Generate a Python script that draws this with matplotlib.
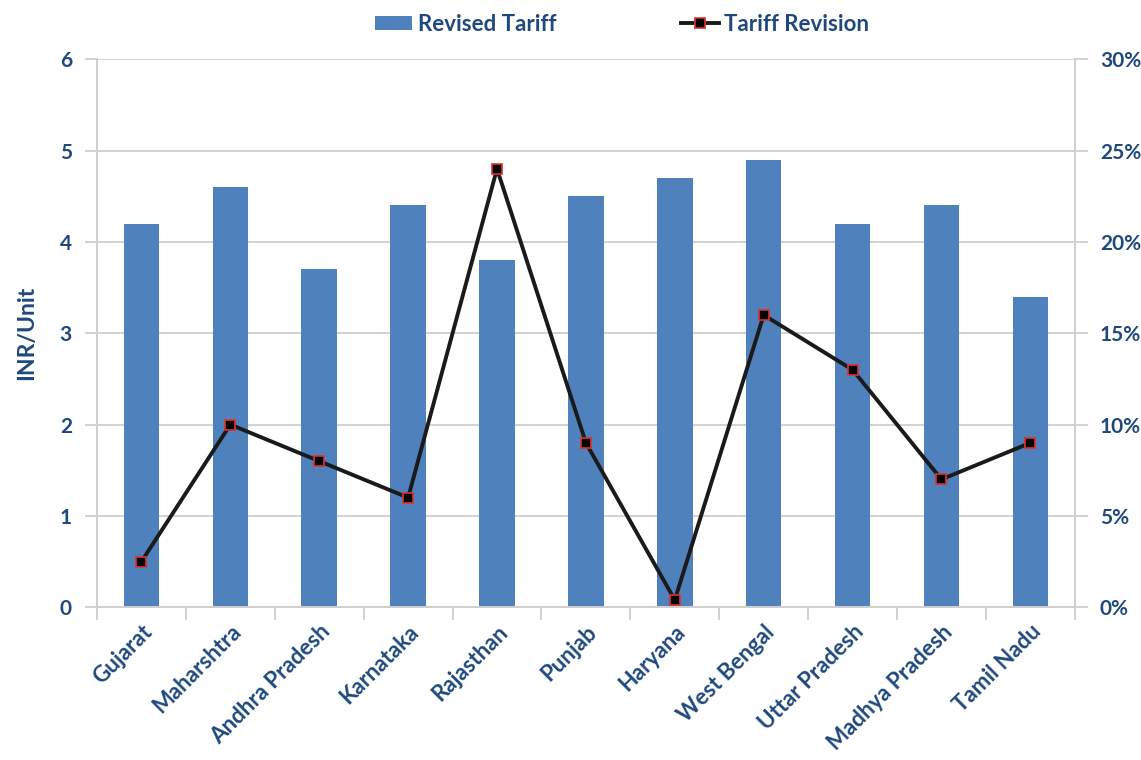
import matplotlib
matplotlib.use('Agg')
import matplotlib.pyplot as plt
import numpy as np
from matplotlib.ticker import FuncFormatter

plt.rcParams['font.family'] = ['Lato', 'DejaVu Sans']
plt.rcParams['font.weight'] = 'bold'

states = ['Gujarat', 'Maharshtra', 'Andhra Pradesh', 'Karnataka', 'Rajasthan', 'Punjab',
          'Haryana', 'West Bengal', 'Uttar Pradesh', 'Madhya Pradesh', 'Tamil Nadu']
revised_tariff = [4.2, 4.6, 3.7, 4.4, 3.8, 4.5, 4.7, 4.9, 4.2, 4.4, 3.4]
tariff_revision = [2.5, 10, 8, 6, 24, 9, 0.4, 16, 13, 7, 9]  # percent

txt = '#1f497d'
bar_c = '#4f81bd'
grid_c = '#cfcfcf'

fig = plt.figure(figsize=(11.41, 7.6), dpi=100)
ax = fig.add_axes([0.085, 0.201, 0.857, 0.721])
ax2 = ax.twinx()

x = np.arange(len(states))
bars = ax.bar(x, revised_tariff, width=0.4, color=bar_c, label='Revised Tariff', zorder=2)
line, = ax2.plot(x, tariff_revision, color='#1a1a1a', lw=2.8, marker='s', ms=7,
                 mfc='black', mec='#e03030', mew=1.2, label='Tariff Revision', zorder=3)

ax.set_xlim(-0.5, len(states) - 0.5)
ax.set_ylim(0, 6)
ax2.set_ylim(0, 30)
ax.set_yticks(range(0, 7))
ax2.set_yticks(range(0, 31, 5))
ax2.yaxis.set_major_formatter(FuncFormatter(lambda v, p: f'{int(v)}%'))

ax.yaxis.grid(True, color=grid_c, lw=1.3, zorder=0)
ax.set_axisbelow(True)

for a in (ax, ax2):
    a.spines['top'].set_visible(False)
    for s in ('left', 'right', 'bottom'):
        a.spines[s].set_color(grid_c)
        a.spines[s].set_linewidth(1.3)
    a.tick_params(axis='y', colors=grid_c, length=9, width=1.3, labelcolor=txt, labelsize=15, pad=9)

ax.set_xticks(x)
ax.set_xticklabels(states, rotation=45, ha='right', rotation_mode='anchor', color=txt, fontsize=16)
ax.tick_params(axis='x', which='major', length=0, pad=10)
ax.set_xticks(np.arange(-0.5, len(states), 1), minor=True)
ax.tick_params(axis='x', which='minor', length=9, width=1.3, color=grid_c)

ax.set_ylabel('INR/Unit', color=txt, fontsize=16.5, fontweight='bold', labelpad=16)

fig.legend(handles=[bars, line], loc='upper center', bbox_to_anchor=(0.545, 1.008), ncol=2,
           frameon=False, fontsize=16, labelcolor=txt, columnspacing=5.6, handlelength=1.7,
           handleheight=0.6, handletextpad=0.25)

fig.savefig('out.png', dpi=100)
